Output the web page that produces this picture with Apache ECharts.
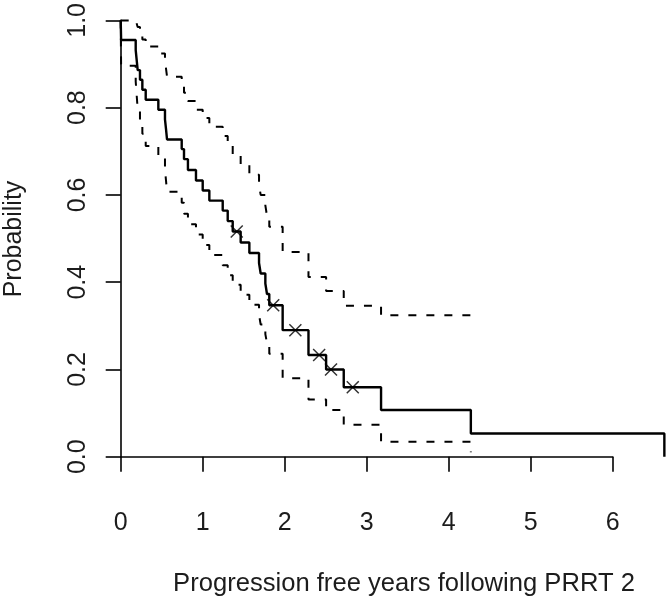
<!DOCTYPE html>
<html>
<head>
<meta charset="utf-8">
<script src="https://cdn.jsdelivr.net/npm/echarts@6/dist/echarts.min.js"></script>
<style>
html,body{margin:0;padding:0;background:#fff;}
#chart{width:669px;height:600px;}
</style>
</head>
<body>
<div id="chart"></div>
<script>
// Kaplan-Meier estimate (step changes)
const kmTimes = [0, 0.005, 0.183, 0.195, 0.207, 0.235, 0.264, 0.305, 0.459, 0.54, 0.553, 0.565, 0.744, 0.772, 0.82, 0.918, 1.0, 1.081, 1.244, 1.305, 1.366, 1.463, 1.569, 1.687, 1.707, 1.764, 1.784, 1.812, 1.975, 2.29, 2.505, 2.72, 3.175, 4.27, 6.63];
const kmSurv = [1, 0.955, 0.932, 0.909, 0.886, 0.864, 0.841, 0.818, 0.795, 0.773, 0.75, 0.727, 0.705, 0.682, 0.657, 0.633, 0.610, 0.587, 0.564, 0.540, 0.516, 0.491, 0.467, 0.444, 0.420, 0.397, 0.373, 0.347, 0.290, 0.233, 0.200, 0.159, 0.107, 0.053, 0];
// confidence band (same step times, ending at 4.27)
const ciTimes = [0, 0.005, 0.183, 0.195, 0.207, 0.235, 0.264, 0.305, 0.459, 0.54, 0.553, 0.565, 0.744, 0.772, 0.82, 0.918, 1.0, 1.081, 1.244, 1.305, 1.366, 1.463, 1.569, 1.687, 1.707, 1.764, 1.784, 1.812, 1.975, 2.29, 2.505, 2.72, 3.175, 4.27];
const ciUpper = [1, 1, 1, 0.998, 0.985, 0.971, 0.956, 0.940, 0.924, 0.907, 0.889, 0.871, 0.853, 0.834, 0.815, 0.795, 0.776, 0.756, 0.735, 0.714, 0.693, 0.670, 0.646, 0.623, 0.600, 0.576, 0.552, 0.527, 0.469, 0.412, 0.380, 0.346, 0.324, 0.324];
const ciLower = [1, 0.896, 0.860, 0.828, 0.797, 0.768, 0.740, 0.712, 0.684, 0.658, 0.632, 0.607, 0.582, 0.557, 0.533, 0.509, 0.485, 0.462, 0.439, 0.416, 0.394, 0.371, 0.348, 0.325, 0.303, 0.281, 0.260, 0.236, 0.180, 0.131, 0.107, 0.073, 0.034, 0.010];
// censored observations
const censorTimes = [1.415, 1.86, 2.13, 2.42, 2.565, 2.83];
const censorSurv = [0.516, 0.347, 0.290, 0.233, 0.200, 0.159];
// tick labels
const xTickLabels = ['0', '1', '2', '3', '4', '5', '6'];
const yTickLabels = ['0.0', '0.2', '0.4', '0.6', '0.8', '1.0'];
const xTitle = 'Progression free years following PRRT 2';
const yTitle = 'Probability';

const zip = (a, b) => a.map((v, i) => [v, b[i]]);
const FONT = "'Liberation Sans', Arial, sans-serif";
const TXT = '#1c1c1c';
const L = 120.7, T = 20, H = 436.7, PX = 82;

const chart = echarts.init(document.getElementById('chart'), null, {renderer: 'canvas'});
chart.setOption({
  animation: false,
  backgroundColor: '#fff',
  grid: [
    {left: L, top: T, width: 669 - L, height: H},
    {left: L, top: T, width: 6 * PX, height: H}
  ],
  xAxis: [
    {type: 'value', gridIndex: 0, min: 0, max: (669 - L) / PX, show: false},
    {type: 'value', gridIndex: 1, min: 0, max: 6, interval: 1, offset: 17.5,
     axisLine: {show: true, lineStyle: {color: '#000', width: 1.6}},
     axisTick: {show: true, length: 15, lineStyle: {color: '#000', width: 1.6}},
     axisLabel: {show: true, margin: 36, fontSize: 25, fontFamily: FONT, color: TXT,
       formatter: v => xTickLabels[Math.round(v)] ?? ''},
     splitLine: {show: false}}
  ],
  yAxis: [
    {type: 'value', gridIndex: 0, min: 0, max: 1, interval: 0.2,
     axisLine: {show: true, lineStyle: {color: '#000', width: 1.6}},
     axisTick: {show: true, length: 15, lineStyle: {color: '#000', width: 1.6}},
     axisLabel: {show: true, rotate: 90, margin: 30, fontSize: 25, fontFamily: FONT, color: TXT,
       formatter: v => yTickLabels[Math.round(v * 5)] ?? ''},
     splitLine: {show: false}},
    {type: 'value', gridIndex: 1, min: 0, max: 1, show: false}
  ],
  graphic: [
    {type: 'text', x: 404, y: 584, style: {text: xTitle, font: '25.6px ' + FONT, fill: TXT, align: 'center', verticalAlign: 'middle'}},
    {type: 'text', x: 14, y: 239, rotation: Math.PI / 2, style: {text: yTitle, font: '25px ' + FONT, fill: TXT, align: 'center', verticalAlign: 'middle'}}
  ],
  series: [
    {type: 'line', xAxisIndex: 0, yAxisIndex: 0, step: 'end', showSymbol: false, clip: false,
     data: zip(ciTimes, ciUpper),
     lineStyle: {color: '#000', width: 2, type: [8, 10]}},
    {type: 'line', xAxisIndex: 0, yAxisIndex: 0, step: 'end', showSymbol: false, clip: false,
     data: zip(ciTimes, ciLower),
     lineStyle: {color: '#000', width: 2, type: [8, 10]}},
    {type: 'line', xAxisIndex: 0, yAxisIndex: 0, step: 'end', showSymbol: false, clip: false,
     data: zip(kmTimes, kmSurv),
     lineStyle: {color: '#000', width: 2.4}},
    {type: 'scatter', xAxisIndex: 0, yAxisIndex: 0, clip: false,
     symbol: 'path://M0,0L10,10M10,0L0,10', symbolSize: 12,
     data: zip(censorTimes, censorSurv),
     itemStyle: {color: 'none', borderColor: '#000', borderWidth: 1.5}}
  ]
});
</script>
</body>
</html>
